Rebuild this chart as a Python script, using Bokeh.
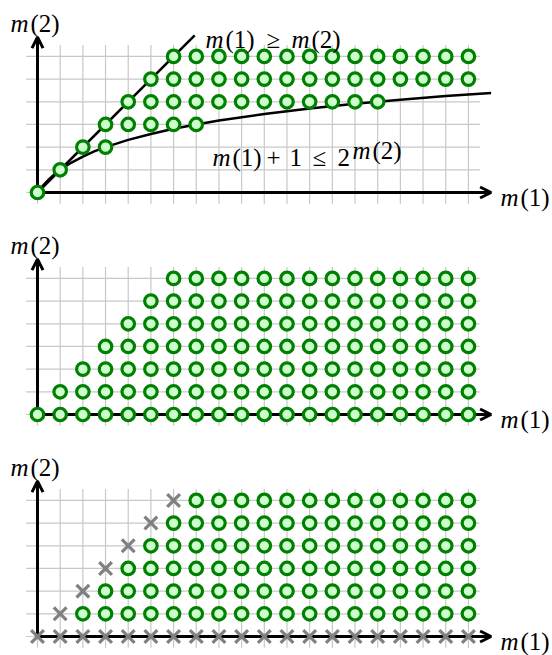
from bokeh.plotting import figure
from bokeh.layouts import column
from bokeh.models import Range1d, Arrow, OpenHead
from bokeh.core.properties import value
from bokeh.embed import file_html
from bokeh.resources import INLINE

# ---------------- data ----------------
m1_ticks = list(range(20))      # grid columns m(1) = 0..19
m2_ticks = list(range(7))       # grid rows    m(2) = 0..6

# panel 1: points with m(1) >= m(2) and m(1)+1 <= 2^m(2)  (per row: first / last m(1))
p1_rows = [0, 1, 2, 3, 4, 5, 6]
p1_start = [0, 1, 2, 3, 4, 5, 6]
p1_end = [0, 1, 3, 7, 15, 19, 19]

# boundary curves of panel 1
diag_x = [0, 6.93]
diag_y = [0, 6.93]
log_x = [0, 0.25, 0.5, 0.75, 1, 1.5, 2, 2.5, 3, 4, 5, 6, 7, 8, 10, 12, 14, 16, 18, 20]
log_y = [0, 0.32, 0.58, 0.81, 1.0, 1.32, 1.58, 1.81, 2.0, 2.32, 2.58, 2.81, 3.0,
         3.17, 3.46, 3.70, 3.91, 4.09, 4.25, 4.39]

# panel 2: points with m(1) >= m(2)
p2_rows = [0, 1, 2, 3, 4, 5, 6]
p2_start = [0, 1, 2, 3, 4, 5, 6]
p2_end = [19, 19, 19, 19, 19, 19, 19]

# panel 3: points with m(1) > m(2) >= 1, crosses elsewhere on the boundary
p3_rows = [1, 2, 3, 4, 5, 6]
p3_start = [2, 3, 4, 5, 6, 7]
p3_end = [19, 19, 19, 19, 19, 19]
p3_cross_x = list(range(20)) + [1, 2, 3, 4, 5, 6]
p3_cross_y = [0] * 20 + [1, 2, 3, 4, 5, 6]


def expand(rows, starts, ends):
    xs, ys = [], []
    for r, s, e in zip(rows, starts, ends):
        for x in range(s, e + 1):
            xs.append(x)
            ys.append(r)
    return xs, ys


# ---------------- layout ----------------
S = 22.68          # pixels per unit
W = 552
X_START = -37 / S
FONT = "Liberation Serif"
FSIZE = "25px"
GREEN_FILL = "#ccffcc"
GREEN_LINE = "#008000"


def mtext(p, x, y, parts):
    for dx, dy, t, it in parts:
        p.text(x=[x + dx / S], y=[y + dy / S], text=[t],
               text_font=value(FONT),
               text_font_style="italic" if it else "normal",
               text_font_size=FSIZE, text_align="left",
               text_baseline="alphabetic", text_color="black")


def make_fig(h, top_px):
    top = top_px / S
    p = figure(width=W, height=h,
               x_range=Range1d(X_START, X_START + W / S),
               y_range=Range1d(top - h / S, top),
               output_backend="svg", toolbar_location=None,
               x_axis_location=None, y_axis_location=None,
               min_border=0, outline_line_color=None)
    p.grid.visible = False
    # help grid
    p.multi_line(xs=[[x, x] for x in m1_ticks], ys=[[-0.5, 6.5] for _ in m1_ticks],
                 line_color="#c8c8c8", line_width=1.2, level="image")
    p.multi_line(xs=[[-0.5, 19.5] for _ in m2_ticks], ys=[[y, y] for y in m2_ticks],
                 line_color="#c8c8c8", line_width=1.2, level="image")
    # axes with arrow heads
    for xe, ye in [(20, 0), (0, 6.85)]:
        p.add_layout(Arrow(x_start=0, y_start=0, x_end=xe, y_end=ye,
                           line_width=3, line_color="black",
                           end=OpenHead(size=11, line_width=3, line_color="black"),
                           level="underlay"))
    # axis labels
    mtext(p, -1.19, 169 / S, [(0, 0, "m", True), (20, 0, "(2)", False)])
    mtext(p, 20.41, -4.5 / S, [(0, 0, "m", True), (20, 0, "(1)", False)])
    return p


def circles(p, xs, ys):
    p.scatter(xs, ys, marker="circle", size=12.5, fill_color=GREEN_FILL,
              line_color=GREEN_LINE, line_width=3.2)


# panel 1  (page y 0..212, origin at 192)
p1 = make_fig(212, 192)
p1.line(diag_x, diag_y, line_color="black", line_width=2.5)
p1.line(log_x, log_y, line_color="black", line_width=2.5)
x1, y1 = expand(p1_rows, p1_start, p1_end)
circles(p1, x1, y1)
mtext(p1, (205 - 37) / S, (191.7 - 39) / S,
      [(0, 0, "m", True), (20, 0, "(1)", False), (61, 0, "≥", False),
       (86, 0, "m", True), (106, 0, "(2)", False)])
mtext(p1, (212 - 37) / S, (191.7 - 157) / S,
      [(0, 0, "m", True), (20, 0, "(1)", False), (54, 0, "+", False),
       (77, 0, "1", False), (100, 0, "≤", False), (125, 0, "2", False),
       (140, 7, "m", True), (160, 7, "(2)", False)])

# panel 2  (page y 212..434, origin at 414)
p2 = make_fig(222, 202)
x2, y2 = expand(p2_rows, p2_start, p2_end)
circles(p2, x2, y2)

# panel 3  (page y 434..655, origin at 636)
p3 = make_fig(221, 202)
x3, y3 = expand(p3_rows, p3_start, p3_end)
circles(p3, x3, y3)
p3.scatter(p3_cross_x, p3_cross_y, marker="x", size=18, line_color="#808080",
           line_width=3.2)

layout = column(p1, p2, p3, spacing=0)
open("out.html", "w").write(file_html(layout, INLINE))
